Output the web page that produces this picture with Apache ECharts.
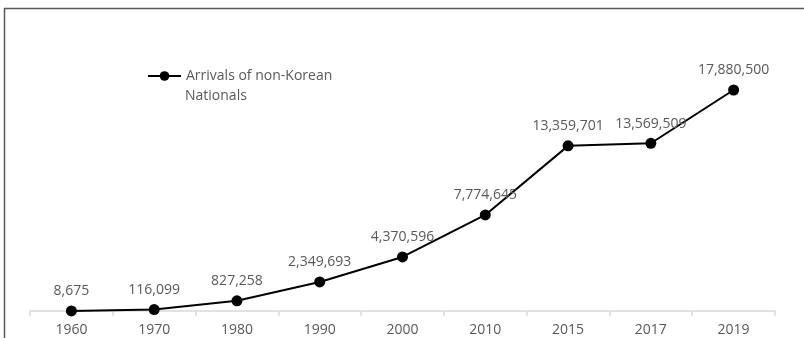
<!DOCTYPE html>
<html>
<head>
<meta charset="utf-8">
<script src="https://cdn.jsdelivr.net/npm/echarts@6/dist/echarts.min.js"></script>
<style>
  html, body { margin: 0; padding: 0; background: #fff; }
  #chart { width: 804px; height: 338px; }
</style>
</head>
<body>
<div id="chart"></div>
<script>
// Arrivals of non-Korean nationals by year
const years = ['1960', '1970', '1980', '1990', '2000', '2010', '2015', '2017', '2019'];
const arrivals = [8675, 116099, 827258, 2349693, 4370596, 7774645, 13359701, 13569509, 17880500];
const seriesName = 'Arrivals of non-Korean Nationals';
const legendLines = ['Arrivals of non-Korean', 'Nationals'];

const textColor = '#595959';
const fontFamily = '"Open Sans", "Noto Sans", sans-serif';
const fontSize = 14;

const chart = echarts.init(document.getElementById('chart'), null, { renderer: 'canvas' });

chart.setOption({
  animation: false,
  backgroundColor: '#ffffff',
  textStyle: { fontFamily: fontFamily },
  grid: { left: 30, right: 29, top: 63.8, bottom: 27, containLabel: false },
  graphic: [
    {
      type: 'rect',
      shape: { x: 4.5, y: 8.5, width: 1000, height: 600 },
      style: { fill: 'none', stroke: '#595959', lineWidth: 1.5 },
      silent: true
    },
    {
      // second line of the legend entry
      type: 'text',
      left: 185,
      top: 89,
      style: { text: legendLines[1], fill: textColor, font: fontSize + 'px ' + fontFamily },
      silent: true
    }
  ],
  legend: {
    left: 147,
    top: 69,
    padding: 0,
    itemWidth: 33,
    itemHeight: 12,
    data: [seriesName],
    formatter: function () { return legendLines[0]; },
    textStyle: { color: textColor, fontSize: fontSize, fontFamily: fontFamily }
  },
  xAxis: {
    type: 'category',
    data: years,
    boundaryGap: true,
    axisLine: { lineStyle: { color: '#d9d9d9', width: 1.5 } },
    axisTick: { show: true, alignWithLabel: false, length: 5, lineStyle: { color: '#d9d9d9', width: 1.5 } },
    axisLabel: { color: textColor, fontSize: fontSize, margin: 12, fontFamily: fontFamily },
    splitLine: { show: false }
  },
  yAxis: {
    type: 'value',
    min: 0,
    max: 20000000,
    show: false
  },
  series: [
    {
      name: seriesName,
      type: 'line',
      data: arrivals,
      symbol: 'circle',
      symbolSize: 11,
      itemStyle: { color: '#000000' },
      lineStyle: { color: '#000000', width: 2 },
      label: {
        show: true,
        position: 'top',
        distance: 7,
        color: textColor,
        fontSize: fontSize,
        fontFamily: fontFamily,
        formatter: function (p) { return p.value.toLocaleString('en-US'); }
      }
    }
  ]
});
</script>
</body>
</html>
